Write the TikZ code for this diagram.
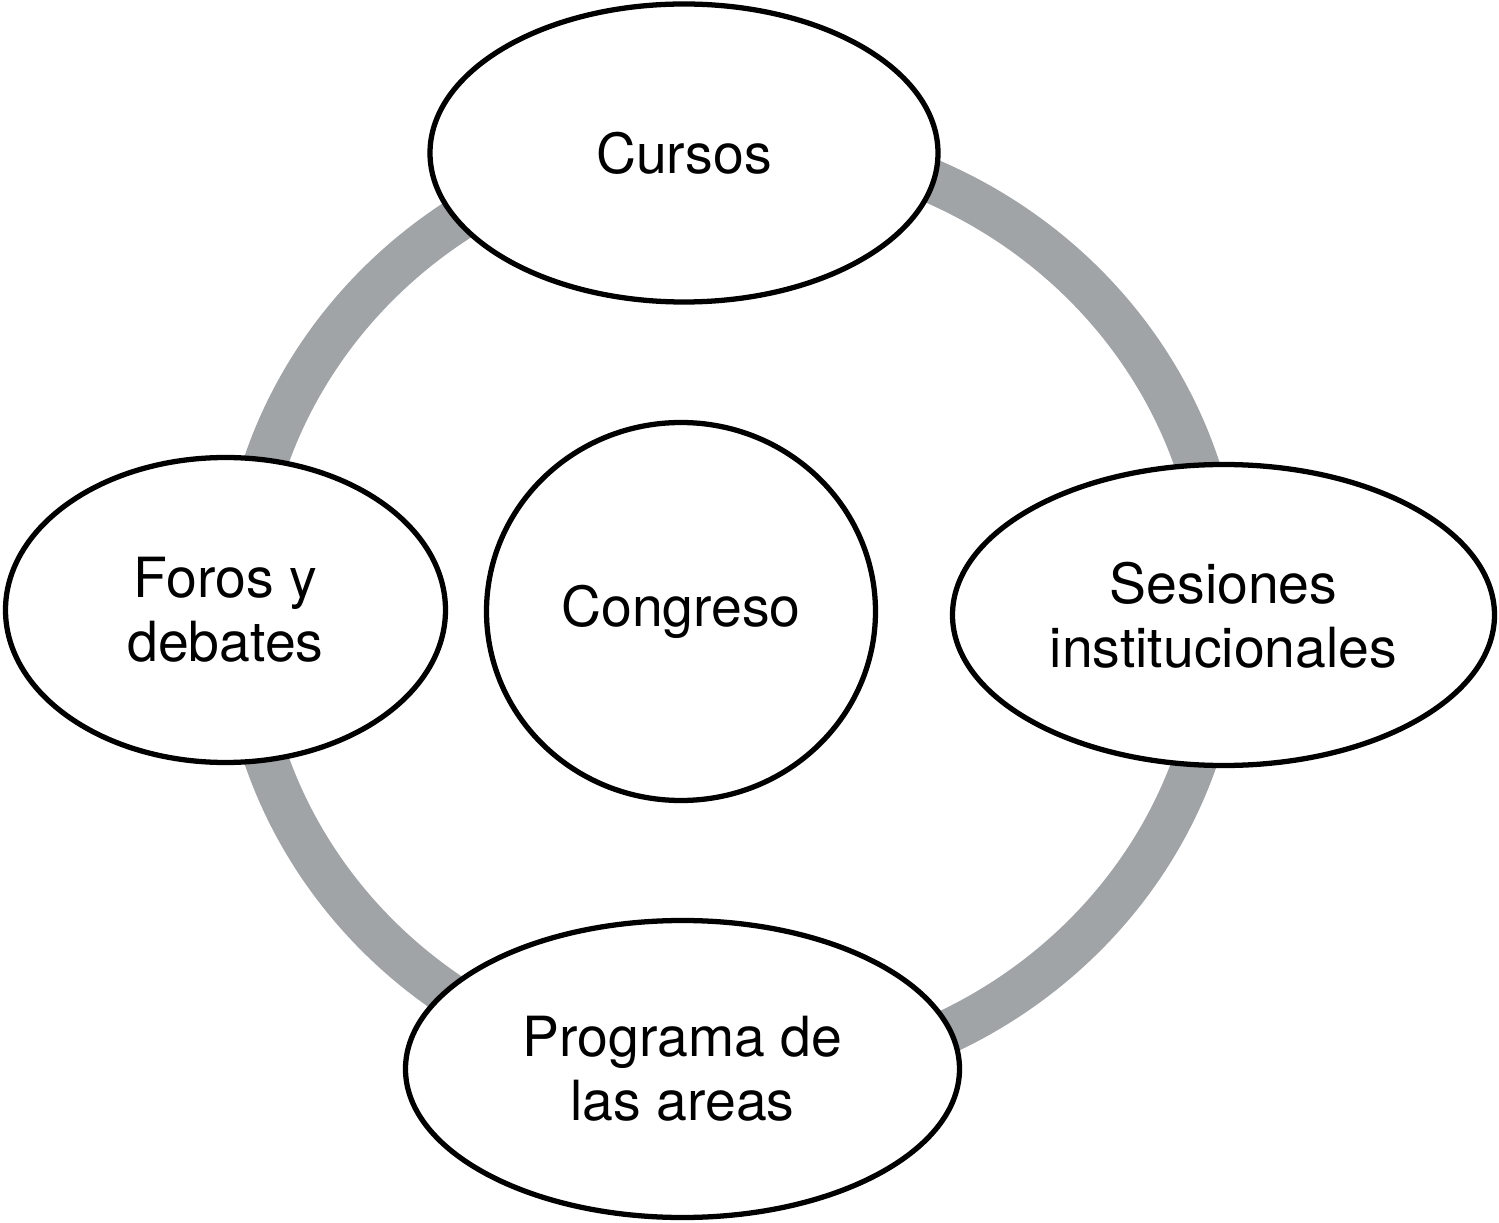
\documentclass[tikz,border=0pt]{standalone}
\usepackage{fontspec}
\setmainfont{TeX Gyre Heros}
\usetikzlibrary{shapes.geometric, positioning}
\definecolor{ringgray}{RGB}{161,164,167}
\tikzset{
  topic/.style = {ellipse, draw=black, line width=3pt, fill=white, align=center, inner sep=0pt, font=\fontsize{31.5}{36.6}\selectfont},
  ring/.style = {draw=ringgray, line width=0.88cm}
}
\begin{document}
\begin{tikzpicture}

\useasboundingbox (0,0) rectangle (29.98,-24.46);

% Grey ring behind the topics
\coordinate (hub) at (14.62,-12.2);
\draw[ring] (hub) ellipse (9.8cm and 9.4cm);

% Center
\node[topic, minimum width=7.78cm, minimum height=7.56cm] (congreso) at (13.62,-12.23) {Congreso};

% Around the ring
\node[topic, minimum width=10.16cm, minimum height=5.96cm] (cursos) at (13.68,-3.06) {Cursos};

\node[topic, minimum width=8.8cm, minimum height=6.1cm] (foros) at (4.51,-12.2) {Foros y\\ debates};

\node[topic, minimum width=10.84cm, minimum height=6.02cm] (sesiones) at (24.47,-12.3) {Sesiones\\ institucionales};

\node[topic, minimum width=11.08cm, minimum height=5.94cm] (programa) at (13.65,-21.38) {Programa de\\ las areas};

\end{tikzpicture}
\end{document}
